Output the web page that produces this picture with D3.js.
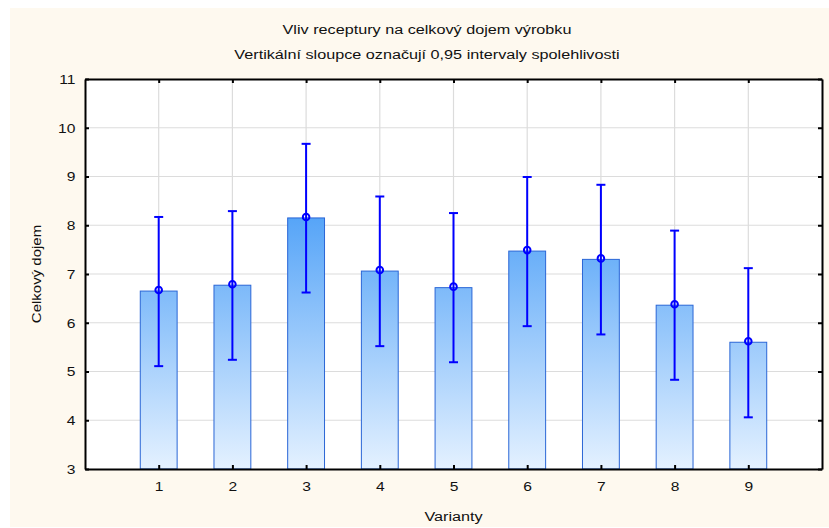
<!DOCTYPE html>
<html>
<head>
<meta charset="utf-8">
<script src="https://cdn.jsdelivr.net/npm/d3@7"></script>
<style>
  body { margin: 0; background: #ffffff; }
  text { font-family: "Liberation Sans", Arial, sans-serif; }
</style>
</head>
<body>
<div id="plot"></div>
<script>
// data
const variants = [1, 2, 3, 4, 5, 6, 7, 8, 9];
const means = [6.65, 6.77, 8.15, 7.06, 6.72, 7.47, 7.30, 6.36, 5.60];
const ciLow = [5.11, 5.24, 6.62, 5.52, 5.19, 5.93, 5.76, 4.83, 4.06];
const ciHigh = [8.17, 8.29, 9.67, 8.59, 8.25, 8.99, 8.83, 7.89, 7.12];
const yTicks = [3, 4, 5, 6, 7, 8, 9, 10, 11];

const titleLines = ["Vliv receptury na celkový dojem výrobku",
                    "Vertikální sloupce označují 0,95 intervaly spolehlivosti"];
const xTitle = "Varianty";
const yTitle = "Celkový dojem";

const data = variants.map((v, i) => ({
  variant: v,
  mean: means[i],
  low: ciLow[i],
  high: ciHigh[i]
}));

const svg_width = 829;
const svg_height = 528;
const plot_left = 85;
const plot_right = 822;
const plot_top = 79;
const plot_bottom = 469;
const stretch = 1.2;   // the original text is drawn a bit wide
const grid_color = "#dcdcdc";
const err_color = "#0000ff";

const svg = d3.select("div#plot")
  .append("svg")
  .attr("width", svg_width)
  .attr("height", svg_height);

// cream backdrop and white plot area
svg.append("rect")
  .attr("x", 10).attr("y", 8)
  .attr("width", svg_width - 10).attr("height", svg_height - 9)
  .attr("fill", "#fef9ef");

svg.append("rect")
  .attr("x", plot_left).attr("y", plot_top)
  .attr("width", plot_right - plot_left).attr("height", plot_bottom - plot_top)
  .attr("fill", "#ffffff");

const x = d3.scaleLinear().domain([0, 10]).range([plot_left, plot_right]);
const y = d3.scaleLinear().domain([3, 11]).range([plot_bottom, plot_top]);

// gradient for bars, shared over the whole plot height
const grad = svg.append("defs").append("linearGradient")
  .attr("id", "barFill")
  .attr("gradientUnits", "userSpaceOnUse")
  .attr("x1", 0).attr("x2", 0)
  .attr("y1", y(8.6)).attr("y2", y(3));
grad.append("stop").attr("offset", "0%").attr("stop-color", "#4a9ef7");
grad.append("stop").attr("offset", "100%").attr("stop-color", "#e4f1ff");

// grid lines
svg.append("g")
  .selectAll("line")
  .data(yTicks.slice(1, -1))
  .enter()
  .append("line")
  .attr("x1", plot_left).attr("x2", plot_right)
  .attr("y1", d => y(d)).attr("y2", d => y(d))
  .attr("stroke", grid_color).attr("stroke-width", 1.2);

svg.append("g")
  .selectAll("line")
  .data(variants)
  .enter()
  .append("line")
  .attr("x1", d => x(d)).attr("x2", d => x(d))
  .attr("y1", plot_top).attr("y2", plot_bottom)
  .attr("stroke", grid_color).attr("stroke-width", 1.2);

// bars
const bar_width = x(0.5) - x(0);
svg.append("g")
  .selectAll("rect")
  .data(data)
  .enter()
  .append("rect")
  .attr("x", d => x(d.variant) - bar_width / 2)
  .attr("y", d => y(d.mean))
  .attr("width", bar_width)
  .attr("height", d => y(3) - y(d.mean))
  .attr("fill", "url(#barFill)")
  .attr("stroke", "#2a66d6")
  .attr("stroke-width", 1);

// error bars
const err = svg.append("g")
  .attr("stroke", err_color)
  .attr("stroke-width", 2)
  .attr("fill", "none");

err.selectAll("line.whisker")
  .data(data)
  .enter()
  .append("line")
  .attr("class", "whisker")
  .attr("x1", d => x(d.variant)).attr("x2", d => x(d.variant))
  .attr("y1", d => y(d.low)).attr("y2", d => y(d.high));

const cap = 4.5;
["low", "high"].forEach(k => {
  err.selectAll("line.cap-" + k)
    .data(data)
    .enter()
    .append("line")
    .attr("class", "cap-" + k)
    .attr("x1", d => x(d.variant) - cap).attr("x2", d => x(d.variant) + cap)
    .attr("y1", d => y(d[k])).attr("y2", d => y(d[k]));
});

err.selectAll("circle")
  .data(data)
  .enter()
  .append("circle")
  .attr("cx", d => x(d.variant))
  .attr("cy", d => y(d.mean) - 1)
  .attr("r", 3.3);

// axes, all ticks pointing inwards
function styleAxis(g) {
  g.select(".domain").attr("stroke", "#000").attr("stroke-width", 2);
  g.selectAll(".tick line").attr("stroke", "#000").attr("stroke-width", 2);
  g.selectAll(".tick text")
    .attr("fill", "#111")
    .style("font-size", "13px");
}

svg.append("g")
  .attr("transform", "translate(" + plot_left + ",0)")
  .call(d3.axisLeft(y).tickValues(yTicks).tickSizeInner(-4).tickSizeOuter(0).tickPadding(8))
  .call(styleAxis)
  .call(g => g.selectAll(".tick text")
    .attr("dy", "0.34em")
    .attr("transform", "scale(" + stretch + ",1)"));

svg.append("g")
  .attr("transform", "translate(0," + plot_bottom + ")")
  .call(d3.axisBottom(x).tickValues(variants).tickSizeInner(-4).tickSizeOuter(0).tickPadding(13))
  .call(styleAxis)
  .call(g => g.selectAll(".tick text")
    .attr("transform", "scale(" + stretch + ",1)"));

svg.append("g")
  .attr("transform", "translate(0," + plot_top + ")")
  .call(d3.axisTop(x).tickValues(variants).tickSizeInner(-4).tickSizeOuter(0).tickFormat(""))
  .call(styleAxis);

svg.append("g")
  .attr("transform", "translate(" + plot_right + ",0)")
  .call(d3.axisRight(y).tickValues(yTicks).tickSizeInner(-4).tickSizeOuter(0).tickFormat(""))
  .call(styleAxis);

// titles
titleLines.forEach((t, i) => {
  svg.append("text")
    .attr("transform", "translate(427," + (34 + i * 25) + ") scale(" + stretch + ",1)")
    .attr("text-anchor", "middle")
    .style("font-size", "13.5px")
    .style("fill", "#111")
    .text(t);
});

svg.append("text")
  .attr("transform", "translate(" + ((plot_left + plot_right) / 2) + ",521) scale(" + stretch + ",1)")
  .attr("text-anchor", "middle")
  .style("font-size", "13.5px")
  .style("fill", "#111")
  .text(xTitle);

svg.append("text")
  .attr("transform", "translate(41," + ((plot_top + plot_bottom) / 2) + ") rotate(-90) scale(" + stretch + ",1)")
  .attr("text-anchor", "middle")
  .style("font-size", "12.5px")
  .style("fill", "#111")
  .text(yTitle);
</script>
</body>
</html>
